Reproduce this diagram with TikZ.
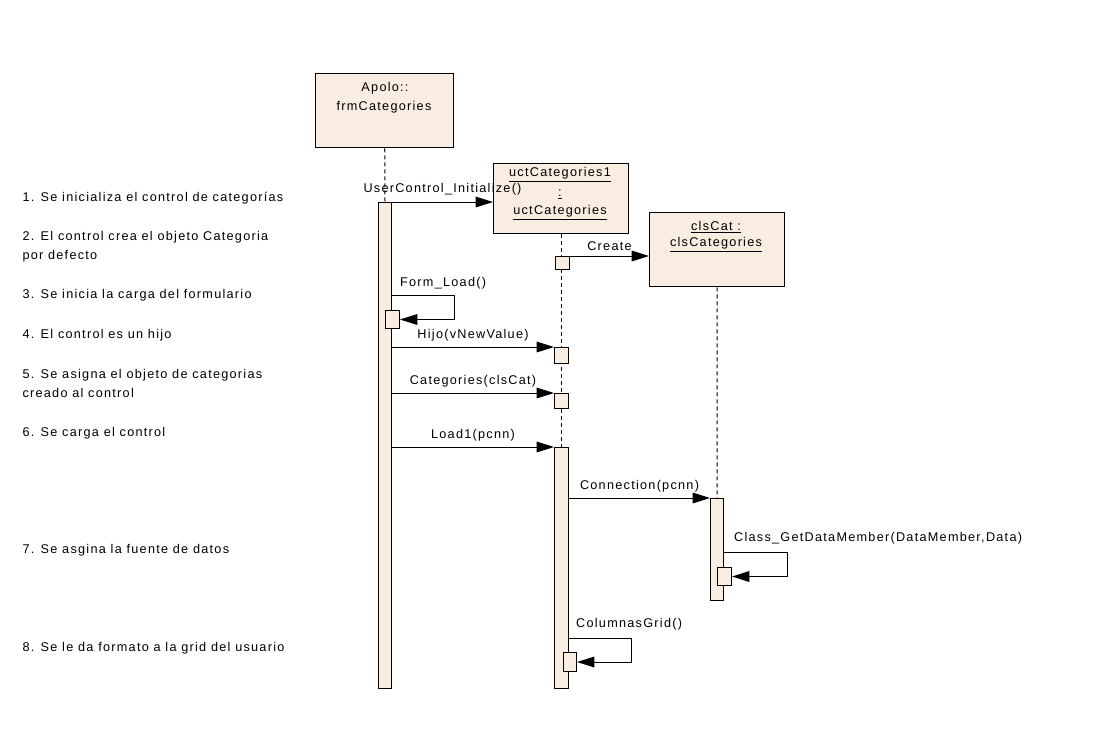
\documentclass[tikz,border=0pt]{standalone}
\usepackage{fontspec}
\setmainfont{Liberation Sans}[LetterSpace=10]
\usetikzlibrary{arrows.meta}
\definecolor{eabeige}{RGB}{248,237,224}

\tikzset{every picture/.style={line width=0.75pt}}
\tikzset{
  lifebox/.style={draw, line width=1.1pt, fill=eabeige, inner sep=0pt, anchor=north west},
  actbar/.style={draw, fill=eabeige, inner sep=0pt, anchor=north west},
  msg/.style={-{Triangle[length=13pt,width=8pt]}},
  lifeline/.style={dash pattern=on 3pt off 2.25pt},
  lbl/.style={inner sep=2pt, font=\fontsize{9.5}{11}\selectfont},
  note/.style={inner sep=0pt, anchor=west, align=left, font=\fontsize{9.5}{14.25}\selectfont},
}

\begin{document}
\begin{tikzpicture}[x=0.75pt,y=0.75pt,yscale=-1,xscale=1]
\useasboundingbox (0,0) rectangle (1105,733);

%Shape: Rectangle [frmCategories]
\node[lifebox, minimum width=103.5pt, minimum height=55.5pt] (frm) at (315,73) {};
%Shape: Rectangle [uctCategories]
\node[lifebox, minimum width=101.25pt, minimum height=52.5pt] (uct) at (493,163) {};
%Shape: Rectangle [clsCat]
\node[lifebox, minimum width=101.25pt, minimum height=55.5pt] (cls) at (649,212) {};

%Shape: Activation bars
\node[actbar, minimum width=9.75pt, minimum height=364.5pt] (bar1) at (378,202) {};
\node[actbar, minimum width=10.5pt, minimum height=180.75pt] (bar2) at (554,447) {};
\node[actbar, minimum width=9.75pt, minimum height=76.5pt] (bar3) at (710,498) {};

%Dashed Lines [lifelines]
\draw[lifeline] (frm.south) -- (bar1.north);
\draw[lifeline] (uct.south) -- (uct.south |- bar2.north);
\draw[lifeline] (cls.south) -- (bar3.north);

%Shape: small activations
\node[actbar, minimum width=10.5pt, minimum height=9.75pt] (cbox) at (555,256) {};
\node[actbar, minimum width=10.5pt, minimum height=13.5pt] (fbox) at (385,310) {};
\node[actbar, minimum width=10.5pt, minimum height=12pt] (hbox) at (554,347) {};
\node[actbar, minimum width=10.5pt, minimum height=11.25pt] (catbox) at (554,393) {};
\node[actbar, minimum width=10.5pt, minimum height=13.5pt] (gbox) at (717,567) {};
\node[actbar, minimum width=9.75pt, minimum height=14.25pt] (colbox) at (563,652) {};

% Text Node
\node[lbl] (frmname) at (385,88) {Apolo::};
% Text Node
\node[lbl] (frmclass) at (384,107) {frmCategories};
% Text Node
\node[lbl] (uctname) at (560,175) {\underline{uctCategories1}};
% Text Node
\node[lbl] (uctcolon) at (560,194) {\underline{:}};
% Text Node
\node[lbl] (uctclass) at (560,213) {\underline{uctCategories}};
% Text Node
\node[lbl] (clsname) at (716,227) {\underline{clsCat :}};
% Text Node
\node[lbl] (clsclass) at (716,245) {\underline{clsCategories}};

%Straight Lines [messages]
\draw[msg] (bar1.north east) -- (bar1.north east -| uct.west)
  node[lbl, midway, above=3pt] (minit) {UserControl\_Initialize()};
\draw[msg] (cbox.north east) -- (cbox.north east -| cls.west)
  node[lbl, midway, above=2pt] (mcreate) {Create};
\draw[msg] (bar1.east |- 0,295) -- ++(62,0) |- (fbox.east);
\draw[msg] (bar1.east |- hbox.north) -- (hbox.north west)
  node[lbl, midway, above=2pt] (mhijo) {Hijo(vNewValue)};
\draw[msg] (bar1.east |- catbox.north) -- (catbox.north west)
  node[lbl, midway, above=2pt] (mcat) {Categories(clsCat)};
\draw[msg] (bar1.east |- bar2.north) -- (bar2.north west)
  node[lbl, midway, above=2pt] (mload) {Load1(pcnn)};
\draw[msg] (bar2.east |- bar3.north) -- (bar3.north west)
  node[lbl, midway, above=2pt] (mconn) {Connection(pcnn)};
\draw[msg] (bar3.east |- 0,552) -- ++(63,0) |- (gbox.east);
\draw[msg] (bar2.east |- 0,638) -- ++(62,0) |- (colbox.east);

% Text Node
\node[lbl, anchor=south west] (mform) at (397,292) {Form\_Load()};
% Text Node
\node[lbl, anchor=south west] (mget) at (731,547) {Class\_GetDataMember(DataMember,Data)};
% Text Node
\node[lbl, anchor=south west] (mcol) at (573,633) {ColumnasGrid()};

% Text Node [notes]
\node[note] (n1) at (22,198) {1. Se inicializa el control de categorías};
\node[note] (n2) at (22,246.5) {2. El control crea el objeto Categoria\\por defecto};
\node[note] (n3) at (22,295) {3. Se inicia la carga del formulario};
\node[note] (n4) at (22,335) {4. El control es un hijo};
\node[note] (n5) at (22,383) {5. Se asigna el objeto de categorias\\creado al control};
\node[note] (n6) at (22,433) {6. Se carga el control};
\node[note] (n7) at (22,550) {7. Se asgina la fuente de datos};
\node[note] (n8) at (22,648) {8. Se le da formato a la grid del usuario};

\end{tikzpicture}
\end{document}
